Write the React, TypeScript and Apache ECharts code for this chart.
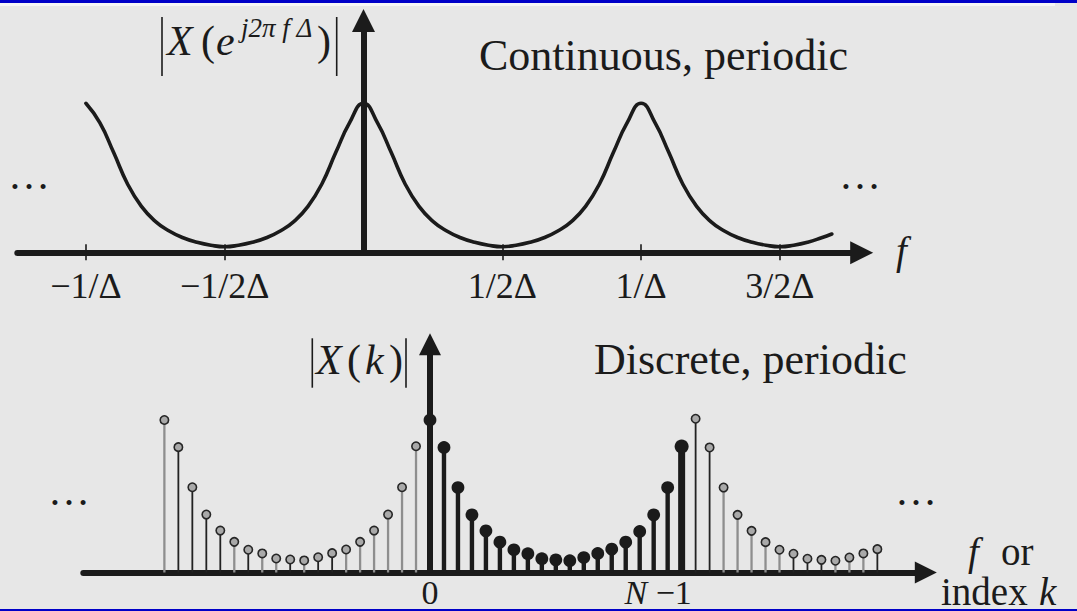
import React, { useEffect, useRef } from "react";
import * as echarts from "echarts";

// ---------- data ----------
// continuous spectrum |X(e^{j2πfΔ})|, f in units of 1/Δ
const CONT_F = [
  -1.0, -0.95, -0.9, -0.85, -0.8, -0.75, -0.7, -0.65, -0.6, -0.55, -0.5,
  -0.45, -0.4, -0.35, -0.3, -0.25, -0.2, -0.15, -0.1, -0.05, 0,
  0.05, 0.1, 0.15, 0.2, 0.25, 0.3, 0.35, 0.4, 0.45, 0.5,
  0.55, 0.6, 0.65, 0.7, 0.75, 0.8, 0.85, 0.9, 0.95, 1.0,
  1.05, 1.1, 1.15, 1.2, 1.25, 1.3, 1.35, 1.4, 1.45, 1.5,
  1.55, 1.6, 1.65, 1.687,
];
const CONT_MAG = [
  1.0, 0.87, 0.67, 0.46, 0.31, 0.21, 0.145, 0.1, 0.07, 0.05, 0.04,
  0.05, 0.07, 0.1, 0.145, 0.21, 0.31, 0.46, 0.67, 0.87, 1.0,
  0.87, 0.67, 0.46, 0.31, 0.21, 0.145, 0.1, 0.07, 0.05, 0.04,
  0.05, 0.07, 0.1, 0.145, 0.21, 0.31, 0.46, 0.67, 0.87, 1.0,
  0.87, 0.67, 0.46, 0.31, 0.21, 0.145, 0.1, 0.07, 0.05, 0.04,
  0.05, 0.07, 0.1, 0.125,
];
const TOP_TICK_VALUES = [-1, -0.5, 0.5, 1, 1.5];
const TOP_TICK_LABELS = ["−1/Δ", "−1/2Δ", "1/2Δ", "1/Δ", "3/2Δ"];

// discrete spectrum |X(k)|
const K_BASE = [0, 1, 2, 3, 4, 5, 6, 7, 8, 9, 10, 11, 12, 13, 14, 15, 16, 17, 18];
const MAG_BASE = [1.0, 0.82, 0.557, 0.378, 0.273, 0.199, 0.149, 0.123, 0.09, 0.083, 0.077, 0.098, 0.125, 0.153, 0.199, 0.269, 0.378, 0.557, 0.826];
const K_LEFT = [-19, -18, -17, -16, -15, -14, -13, -12, -11, -10, -9, -8, -7, -6, -5, -4, -3, -2, -1];
const MAG_LEFT = [1.0, 0.822, 0.559, 0.38, 0.275, 0.201, 0.149, 0.125, 0.092, 0.085, 0.079, 0.1, 0.127, 0.151, 0.201, 0.275, 0.38, 0.559, 0.828];
const K_RIGHT = [19, 20, 21, 22, 23, 24, 25, 26, 27, 28, 29, 30, 31, 32];
const MAG_RIGHT = [1.008, 0.82, 0.557, 0.378, 0.273, 0.199, 0.149, 0.123, 0.09, 0.083, 0.077, 0.098, 0.125, 0.153];
const BOTTOM_TICK_VALUES = [0, 18];
const BOTTOM_TICK_LABELS = ["0", "N −1"];

// ---------- styling ----------
const INK = "#1b1b1b";
const SERIF = "'Liberation Serif', 'Times New Roman', serif";
const BLUE = "#0000c8";
// stem tones of the periodic copies (d = dark thin, g = gray)
const LEFT_TONES = "gddddgdggdgddgggggg";
const RIGHT_TONES = "ddgggggdddgggd";

// geometry of the two panels (pixels)
const TOP_LEFT_PX = 17.3;
const TOP_RIGHT_PX = 861.7;
const TOP_ZERO_PX = 363.5;
const TOP_UNIT_PX = 277.6;
const TOP_AXIS_Y = 252.7;
const TOP_ARROW_Y = 20.5;
const TOP_PEAK_PX = 149.4;

const BOT_LEFT_PX = 83.3;
const BOT_RIGHT_PX = 925.8;
const BOT_ZERO_PX = 430;
const BOT_UNIT_PX = 13.98;
const BOT_AXIS_Y = 572.5;
const BOT_ARROW_Y = 344.2;
const BOT_PEAK_PX = 152.5;

const W = 1077;
const H = 611;

function stemRenderer(kind: "base" | "left" | "right") {
  return (params: any, api: any) => {
    const k = api.value(0);
    const h = api.value(1);
    const base = api.coord([k, 0]);
    const top = api.coord([k, h]);
    if (kind === "base") {
      const thick = params.dataIndex === K_BASE.length - 1;
      return {
        type: "group",
        children: [
          { type: "line", shape: { x1: base[0], y1: base[1], x2: top[0], y2: top[1] }, style: { stroke: INK, lineWidth: thick ? 7 : 4.4 } },
          { type: "circle", shape: { cx: top[0], cy: top[1], r: thick ? 7 : 6.4 }, style: { fill: INK, stroke: null } },
        ],
      };
    }
    const tones = kind === "left" ? LEFT_TONES : RIGHT_TONES;
    const tone = tones[params.dataIndex] || "g";
    return {
      type: "group",
      children: [
        {
          type: "line",
          shape: { x1: base[0], y1: base[1], x2: top[0], y2: top[1] },
          style: { stroke: tone === "d" ? "#222222" : "#8e8e8e", lineWidth: tone === "d" ? 1.8 : 2.3 },
        },
        { type: "circle", shape: { cx: top[0], cy: top[1], r: 4.2 }, style: { fill: "#a9a9a9", stroke: "#262626", lineWidth: 1.6 } },
      ],
    };
  };
}

function txt(text: string, x: number, y: number, size: number, opts: any = {}) {
  return {
    type: "text",
    x,
    y,
    z: 20,
    style: {
      text,
      fill: INK,
      fontSize: size,
      fontFamily: SERIF,
      fontStyle: opts.italic ? "italic" : "normal",
      align: opts.align || "left",
      verticalAlign: "middle",
    },
  };
}

function vbar(x: number, y1: number, y2: number) {
  return { type: "line", z: 20, shape: { x1: x, y1, x2: x, y2 }, style: { stroke: INK, lineWidth: 1.6 } };
}

export default function App() {
  const ref = useRef<HTMLDivElement>(null);

  useEffect(() => {
    if (!ref.current) return;
    const chart = echarts.init(ref.current, undefined, { renderer: "svg" });

    const topMin = (TOP_LEFT_PX - TOP_ZERO_PX) / TOP_UNIT_PX;
    const topMax = (TOP_RIGHT_PX - TOP_ZERO_PX) / TOP_UNIT_PX;
    const topYMax = (TOP_AXIS_Y - TOP_ARROW_Y) / TOP_PEAK_PX;
    const botMin = (BOT_LEFT_PX - BOT_ZERO_PX) / BOT_UNIT_PX;
    const botMax = (BOT_RIGHT_PX - BOT_ZERO_PX) / BOT_UNIT_PX;
    const botYMax = (BOT_AXIS_Y - BOT_ARROW_Y) / BOT_PEAK_PX;

    const axisLine = (size: number) => ({
      show: true,
      onZero: true,
      symbol: ["none", "triangle"],
      symbolSize: [size, size],
      lineStyle: { color: INK, width: 6 },
    });

    const option: any = {
      animation: false,
      backgroundColor: "#e7e7e7",
      grid: [
        { left: TOP_LEFT_PX, right: W - TOP_RIGHT_PX, top: TOP_ARROW_Y, bottom: H - TOP_AXIS_Y },
        { left: BOT_LEFT_PX, right: W - BOT_RIGHT_PX, top: BOT_ARROW_Y, bottom: H - BOT_AXIS_Y },
      ],
      xAxis: [
        {
          type: "value",
          gridIndex: 0,
          position: "bottom",
          min: topMin,
          max: topMax,
          axisLine: axisLine(23),
          axisTick: { show: true, customValues: TOP_TICK_VALUES, length: 7.5, lineStyle: { color: INK, width: 1.6 } },
          axisLabel: {
            show: true,
            customValues: TOP_TICK_VALUES,
            formatter: (v: number) => {
              const i = TOP_TICK_VALUES.findIndex((t) => Math.abs(t - v) < 1e-6);
              return i >= 0 ? TOP_TICK_LABELS[i] : "";
            },
            fontSize: 36,
            fontFamily: SERIF,
            color: INK,
            margin: 15.5,
          },
          splitLine: { show: false },
        },
        {
          type: "value",
          gridIndex: 0,
          position: "bottom",
          min: topMin,
          max: topMax,
          axisLine: { show: false },
          axisTick: { show: true, inside: true, customValues: TOP_TICK_VALUES, length: 8.5, lineStyle: { color: INK, width: 1.6 } },
          axisLabel: { show: false },
          splitLine: { show: false },
        },
        {
          type: "value",
          gridIndex: 1,
          position: "bottom",
          min: botMin,
          max: botMax,
          axisLine: axisLine(22),
          axisTick: { show: false },
          axisLabel: {
            show: true,
            customValues: BOTTOM_TICK_VALUES,
            formatter: (v: number) => {
              const i = BOTTOM_TICK_VALUES.findIndex((t) => Math.abs(t - v) < 1e-6);
              if (i < 0) return "";
              const label = BOTTOM_TICK_LABELS[i];
              if (label.startsWith("N")) return "{it|N}{nm|" + label.slice(1) + "}{gap| }";
              return "{nm|" + label + "}";
            },
            fontSize: 34,
            fontFamily: SERIF,
            color: INK,
            margin: 3,
            rich: {
              it: { fontSize: 34, fontFamily: SERIF, fontStyle: "italic", color: INK },
              nm: { fontSize: 34, fontFamily: SERIF, color: INK },
              gap: { fontSize: 34, fontFamily: SERIF, width: 47 },
            },
          },
          splitLine: { show: false },
        },
      ],
      yAxis: [
        {
          type: "value",
          gridIndex: 0,
          min: 0,
          max: topYMax,
          axisLine: axisLine(23),
          axisTick: { show: false },
          axisLabel: { show: false },
          splitLine: { show: false },
        },
        {
          type: "value",
          gridIndex: 1,
          min: 0,
          max: botYMax,
          axisLine: axisLine(22),
          axisTick: { show: false },
          axisLabel: { show: false },
          splitLine: { show: false },
        },
      ],
      series: [
        {
          type: "line",
          xAxisIndex: 0,
          yAxisIndex: 0,
          data: CONT_F.map((f, i) => [f, CONT_MAG[i]]),
          smooth: 0.5,
          showSymbol: false,
          symbol: "none",
          lineStyle: { color: INK, width: 3.6, cap: "round", join: "round" },
          z: 3,
        },
        {
          type: "custom",
          xAxisIndex: 2,
          yAxisIndex: 1,
          data: K_LEFT.map((k, i) => [k, MAG_LEFT[i]]),
          encode: { x: 0, y: 1 },
          renderItem: stemRenderer("left"),
          z: 3,
        },
        {
          type: "custom",
          xAxisIndex: 2,
          yAxisIndex: 1,
          data: K_RIGHT.map((k, i) => [k, MAG_RIGHT[i]]),
          encode: { x: 0, y: 1 },
          renderItem: stemRenderer("right"),
          z: 3,
        },
        {
          type: "custom",
          xAxisIndex: 2,
          yAxisIndex: 1,
          data: K_BASE.map((k, i) => [k, MAG_BASE[i]]),
          encode: { x: 0, y: 1 },
          renderItem: stemRenderer("base"),
          z: 4,
        },
      ],
      graphic: [
        // frame
        { type: "rect", z: 30, shape: { x: 0, y: 0, width: W, height: 3 }, style: { fill: BLUE } },
        { type: "rect", z: 30, shape: { x: 0, y: 3, width: 1055, height: 3 }, style: { fill: "#f6f6f6" } },
        { type: "rect", z: 30, shape: { x: 0, y: 609, width: W, height: 2 }, style: { fill: BLUE } },
        // top panel titles
        txt("Continuous, periodic", 479, 55.9, 44),
        vbar(162, 17, 76),
        vbar(336.7, 17, 76),
        txt("X", 167, 41, 42, { italic: true }),
        txt("(", 201, 41, 42),
        txt("e", 216, 41, 42, { italic: true }),
        txt("j2π f Δ", 241, 27.5, 27, { italic: true }),
        txt(")", 317, 41, 42),
        txt("…", 29, 174.8, 42, { align: "center" }),
        txt("…", 860, 174.8, 42, { align: "center" }),
        txt("f", 901.5, 250.8, 39, { italic: true, align: "center" }),
        // bottom panel titles
        txt("Discrete, periodic", 594, 359.2, 44),
        vbar(312.3, 338.3, 387.7),
        vbar(406, 338.3, 387.7),
        txt("X", 316, 359.5, 42, { italic: true }),
        txt("(", 347, 359.5, 42),
        txt("k", 365, 359.5, 42, { italic: true }),
        txt(")", 389, 359.5, 42),
        txt("…", 69, 490.8, 42, { align: "center" }),
        txt("…", 916, 490.8, 42, { align: "center" }),
        txt("f", 973.5, 551.8, 39, { italic: true, align: "center" }),
        txt("or", 1001, 551.8, 39),
        txt("index", 941, 591, 39),
        txt("k", 1039, 591, 39, { italic: true }),
      ],
    };

    chart.setOption(option);
    return () => chart.dispose();
  }, []);

  return <div ref={ref} style={{ position: "absolute", left: 0, top: 0, width: W, height: H }} />;
}
